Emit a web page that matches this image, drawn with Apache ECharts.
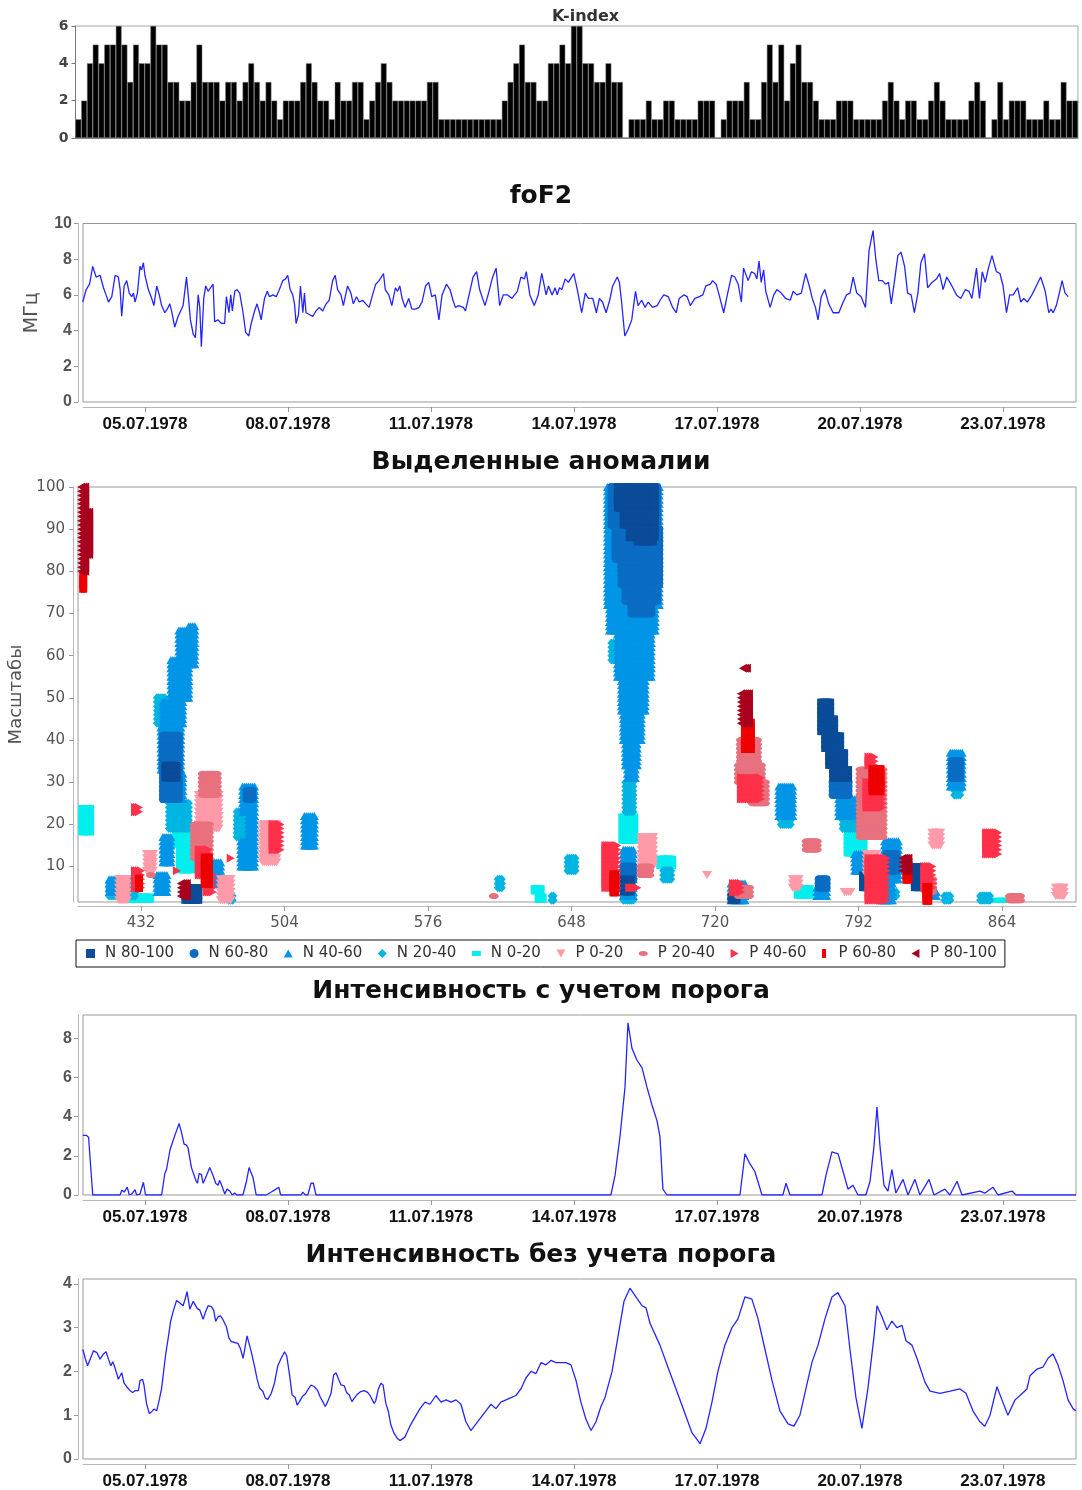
<!DOCTYPE html>
<html>
<head>
<meta charset="utf-8">
<script src="https://cdn.jsdelivr.net/npm/echarts@6/dist/echarts.min.js"></script>
<style>
html,body{margin:0;padding:0;background:#fff}
#chart{width:1082px;height:1490px}
</style>
</head>
<body>
<div id="chart"></div>
<script>
// ---------- time axis (hours from 17.06.1978 00:00) ----------
const dateTicks = [432, 504, 576, 648, 720, 792, 864];
const dateLabels = ['05.07.1978', '08.07.1978', '11.07.1978', '14.07.1978', '17.07.1978', '20.07.1978', '23.07.1978'];
const hourTicks = [432, 504, 576, 648, 720, 792, 864];

// ---------- K-index, 3-hour values ----------
const kIndex = [
  1,2,4,5,4,5,5,6,5,3,5,4,4,6,5,5,3,3,2,2,3,5,3,3,3,2,3,3,2,3,4,3,2,3,2,1,2,2,2,3,
  4,3,2,2,1,3,2,2,3,3,1,2,3,4,3,2,2,2,2,2,2,3,3,1,1,1,1,1,1,1,1,1,1,1,2,3,4,5,3,3,
  2,2,4,4,5,4,6,6,4,4,3,3,4,3,3,0,1,1,1,2,1,1,2,2,1,1,1,1,2,2,2,0,1,2,2,2,3,1,1,3,
  5,3,5,2,4,5,3,3,2,1,1,1,2,2,2,1,1,1,1,1,2,3,2,1,2,2,1,1,2,3,2,1,1,1,1,2,3,2,0,1,
  3,1,2,2,2,1,1,1,2,1,1,3,2,2
];

// ---------- foF2, MHz: [hour, value] ----------
const fof2 = [
  [400.7,5.6],[402.4,6.3],[404.1,6.6],[405.7,7.6],[407.4,7.0],[408.3,6.9],[409.4,7.1],[411.1,6.4],[412.4,6.0],[413.6,5.6],
  [414.4,5.5],[415.3,5.9],[417.0,7.1],[418.6,7.0],[419.5,6.3],[420.3,4.8],[421.5,6.5],[422.8,6.8],[424.1,6.1],[425.3,5.9],
  [426.2,6.1],[427.0,5.6],[428.2,6.1],[429.5,7.6],[430.3,7.4],[431.2,7.8],[432.0,7.1],[433.7,6.3],[435.4,5.8],[436.5,5.4],
  [437.9,6.5],[439.2,6.0],[440.4,5.4],[441.2,5.5],[442.0,5.0],[443.2,5.2],[444.5,5.5],[445.4,5.1],[447.0,4.2],[448.7,4.8],
  [450.4,5.2],[451.2,5.4],[452.9,7.0],[453.7,6.1],[454.9,4.6],[456.3,3.8],[457.4,3.6],[458.8,6.0],[459.6,5.3],[460.4,3.1],
  [461.6,5.8],[462.6,6.5],[463.8,6.2],[465.0,6.4],[466.3,6.6],[467.1,4.5],[468.8,4.6],[470.5,4.4],[472.1,4.4],[473.0,5.9],
  [474.3,5.0],[475.2,6.0],[476.0,5.1],[477.2,6.2],[478.3,6.3],[479.7,6.1],[481.4,5.0],[482.7,3.9],[484.3,3.7],[485.5,4.4],
  [487.2,5.1],[488.4,5.5],[489.7,5.0],[490.5,4.6],[492.2,5.8],[493.6,6.2],[494.7,5.9],[496.4,6.0],[498.1,5.9],[499.7,6.3],
  [501.4,6.8],[502.8,6.9],[503.9,7.1],[505.1,6.3],[506.4,6.0],[507.3,5.5],[508.1,4.4],[509.3,4.9],[510.3,6.5],[511.5,5.0],
  [512.3,6.1],[513.1,5.0],[514.8,4.9],[516.5,4.8],[518.1,5.1],[519.8,5.3],[521.5,5.1],[523.2,5.5],[524.8,5.7],[526.5,6.8],
  [527.8,7.1],[529.0,6.3],[530.7,6.0],[531.9,5.4],[534.0,6.5],[535.7,6.1],[536.9,5.5],[538.5,5.9],[539.9,5.6],[541.6,5.7],
  [543.2,5.5],[544.9,5.3],[546.6,6.0],[548.2,6.6],[549.9,6.8],[552.1,7.2],[553.0,6.3],[554.8,6.0],[556.3,5.4],[558.1,6.4],
  [559.2,6.2],[560.3,6.5],[561.5,5.8],[563.0,5.3],[564.8,5.8],[566.4,5.2],[568.2,5.2],[570.0,5.3],[571.5,5.6],[573.3,6.5],
  [574.9,6.7],[576.4,5.9],[578.2,6.0],[580.0,4.6],[581.6,6.0],[583.8,6.6],[585.6,6.3],[587.1,5.7],[588.3,5.3],[590.0,5.4],
  [592.3,5.3],[593.4,5.1],[595.0,5.9],[597.2,7.0],[599.0,7.3],[600.5,6.3],[603.2,5.4],[605.0,6.1],[606.8,6.9],[608.8,7.5],
  [610.6,5.4],[612.4,6.0],[614.6,6.0],[616.8,5.8],[619.5,6.2],[621.3,7.0],[623.1,6.9],[624.0,7.3],[625.8,6.0],[628.0,5.4],
  [630.0,6.0],[631.8,7.2],[634.0,6.0],[635.2,6.5],[637.0,6.0],[638.5,6.4],[639.6,6.0],[640.7,6.4],[641.9,6.3],[643.6,6.9],
  [645.2,6.7],[646.8,7.0],[647.9,7.2],[649.7,6.3],[651.9,5.0],[653.7,6.1],[655.3,5.8],[657.5,5.8],[659.3,5.0],[660.8,5.8],
  [662.4,5.6],[664.2,5.0],[666.0,5.7],[667.5,6.5],[669.8,7.0],[670.9,6.7],[672.0,5.6],[673.6,3.7],[675.4,4.1],[677.1,4.6],
  [679.0,6.2],[680.3,5.4],[682.1,5.7],[683.8,5.3],[685.4,5.6],[687.6,5.3],[689.9,5.4],[691.4,5.7],[693.2,6.0],[695.5,5.9],
  [697.7,5.3],[699.5,5.0],[701.0,5.8],[703.3,6.0],[705.0,5.9],[706.6,5.4],[708.9,5.8],[711.1,5.9],[712.9,6.0],[714.4,6.5],
  [716.7,6.6],[717.8,6.8],[719.6,6.6],[721.1,6.0],[723.4,5.0],[725.6,6.2],[727.4,7.1],[729.0,7.0],[730.7,6.6],[732.3,5.6],
  [733.4,7.5],[735.7,6.8],[737.4,7.3],[739.0,7.2],[740.1,6.9],[741.2,7.9],[742.3,6.7],[743.5,7.4],[744.6,6.2],[746.8,5.3],
  [748.6,6.0],[750.2,6.3],[752.4,6.1],[754.6,5.8],[756.9,5.7],[758.4,6.2],[760.2,6.0],[762.5,6.1],[764.7,7.2],[766.5,6.5],
  [768.0,5.8],[769.6,5.3],[770.9,4.6],[772.5,5.9],[774.3,6.3],[776.3,5.5],[778.5,5.0],[781.4,5.0],[783.2,5.5],[785.2,6.0],
  [787.0,6.1],[788.6,7.0],[790.4,6.1],[792.6,5.9],[794.8,5.3],[796.6,8.5],[798.6,9.6],[800.0,8.0],[801.5,6.8],[803.3,6.8],
  [804.9,6.6],[806.4,6.7],[807.8,5.5],[809.3,6.7],[811.1,8.2],[812.7,8.4],[814.5,7.6],[816.0,6.1],[817.8,6.0],[819.4,5.0],
  [821.2,6.1],[822.7,7.8],[824.5,8.3],[826.1,6.4],[828.3,6.7],[830.6,6.9],[832.1,7.2],[833.9,6.3],[835.7,7.0],[837.3,6.7],
  [838.8,6.4],[840.6,6.0],[842.8,5.8],[845.1,6.3],[846.9,6.2],[848.4,5.8],[850.7,7.5],[852.2,5.8],[853.6,7.3],[855.1,6.7],
  [856.7,7.5],[858.5,8.2],[860.7,7.3],[862.5,7.2],[864.1,6.5],[865.8,5.0],[867.4,6.0],[869.2,6.0],[871.4,6.4],[873.0,5.6],
  [874.5,5.8],[876.3,5.6],[878.6,6.0],[880.8,6.5],[883.0,7.0],[884.2,6.6],[885.3,6.2],[887.1,5.0],[888.2,5.2],[889.3,5.0],
  [890.9,5.4],[892.4,6.1],[893.8,6.8],[895.3,6.1],[896.9,5.9]
];

// ---------- intensity above threshold: [hour, value] ----------
const intensThr = [
  [400.7,3.05],[402.4,3.05],[403.6,2.95],[405.7,0],[419.5,0],[420.3,0.25],[421.5,0.15],[423.1,0.4],[424.1,0],[425.3,0.05],
  [427.0,0.27],[427.8,0],[429.5,0.05],[431.2,0.65],[432.3,0],[437.0,0],[437.5,0.1],[438.2,0],[440.4,0],[442.0,1.1],
  [442.9,1.33],[444.6,2.3],[446.2,2.8],[447.6,3.2],[449.2,3.65],[450.4,3.2],[451.7,2.6],[452.9,2.55],[453.7,2.4],[455.4,1.4],
  [456.3,1.3],[457.6,0.75],[458.4,0.6],[459.3,1.1],[460.4,1.05],[461.3,0.6],[463.0,1.0],[464.6,1.4],[465.5,1.45],[466.3,1.0],
  [467.6,0.6],[468.8,0.5],[469.6,0.75],[471.0,0.4],[472.2,0.05],[473.3,0.3],[474.7,0.2],[476.0,0],[477.2,0.1],[478.3,0],
  [481.3,0],[483.0,0.65],[484.4,1.4],[485.0,1.45],[486.4,0.9],[488.0,0],[493.1,0],[495.6,0.15],[497.2,0.25],[499.4,0.4],
  [500.3,0],[510.6,0],[511.5,0.15],[512.8,0],[514.0,0],[515.6,0.6],[516.8,0.6],[518.1,0],[607,0],[608,0.05],
  [609,0],[637,0],[638,0.05],[639,0],[647,0],[647.5,0.05],[648,0],[666.6,0],[668.7,1.0],[671.2,3.0],
  [673.7,5.5],[675.2,8.8],[677.2,7.5],[679.7,6.9],[682.3,6.5],[684.8,5.5],[687.3,4.6],[689.8,3.8],[691.3,3.0],[692.8,0.3],
  [694.8,0],[731.6,0],[734.1,2.1],[736.6,1.6],[739.1,1.2],[742.7,0],[753.2,0],[754.8,0.6],[756.8,0],[772.9,0],
  [774.9,1.0],[777.9,2.2],[781.0,2.1],[783.5,1.2],[786.0,0.3],[788.5,0.5],[791.0,0],[795.0,0],[797.1,0.7],[799.1,2.5],
  [800.6,4.5],[802.1,2.5],[804.1,0.5],[806.1,0.2],[808.1,1.3],[810.1,0.1],[813.7,0.8],[816.2,0],[819.7,0.8],[822.2,0],
  [826.8,0.8],[829.3,0],[834.8,0.3],[837.3,0],[840.9,0.7],[843.4,0],[852.4,0.2],[855.0,0.1],[859.0,0.4],[861.5,0],
  [868.6,0.2],[870.6,0],[900.8,0]
];

// ---------- intensity without threshold: [hour, value] ----------
const intensRaw = [
  [400.7,2.5],[401.9,2.3],[403.1,2.13],[404.4,2.28],[406.1,2.47],[407.8,2.43],[409.4,2.28],[411.1,2.4],[412.4,2.45],[413.6,2.28],
  [414.8,2.13],[415.8,2.22],[417.0,2.07],[418.6,1.82],[420.3,1.97],[421.5,1.73],[422.8,1.65],[424.5,1.56],[425.8,1.52],[427.0,1.56],
  [428.7,1.56],[429.5,1.79],[430.8,1.82],[431.5,1.69],[432.8,1.26],[434.2,1.04],[435.4,1.08],[436.5,1.14],[437.9,1.1],[439.2,1.35],
  [440.4,1.62],[441.2,1.92],[442.4,2.38],[443.7,2.76],[444.9,3.14],[446.2,3.37],[447.9,3.62],[449.6,3.56],[451.2,3.5],[452.1,3.63],
  [453.2,3.82],[454.6,3.42],[456.3,3.6],[457.1,3.62],[458.3,3.44],[459.6,3.4],[461.3,3.19],[462.6,3.37],[463.8,3.5],[465.5,3.48],
  [466.6,3.4],[467.6,3.14],[468.8,3.25],[470.0,3.27],[471.3,3.18],[473.0,3.02],[474.3,2.76],[475.5,2.68],[477.2,2.66],[478.8,2.64],
  [480.0,2.53],[481.4,2.3],[482.2,2.49],[483.4,2.81],[484.4,2.81],[485.5,2.45],[487.2,2.11],[488.4,1.84],[489.7,1.62],[491.4,1.54],
  [492.6,1.39],[493.9,1.36],[495.6,1.5],[497.2,1.73],[498.9,2.13],[500.6,2.3],[502.3,2.45],[503.4,2.35],[504.8,1.92],[506.1,1.46],
  [507.6,1.41],[508.6,1.23],[509.8,1.31],[511.5,1.44],[512.8,1.49],[514.0,1.58],[515.6,1.69],[517.3,1.65],[519.0,1.56],[520.2,1.42],
  [521.5,1.31],[522.8,1.2],[524.0,1.31],[525.7,1.5],[527.0,1.92],[528.2,1.97],[529.5,1.82],[530.7,1.69],[532.4,1.67],[533.5,1.52],
  [534.9,1.46],[536.2,1.31],[537.4,1.39],[539.0,1.48],[540.7,1.54],[542.4,1.56],[544.1,1.52],[545.2,1.46],[547.4,1.27],[548.2,1.33],
  [549.4,1.58],[550.8,1.73],[551.9,1.69],[553.3,1.27],[554.6,1.08],[555.8,0.78],[557.4,0.59],[559.1,0.47],[560.4,0.42],[562.9,0.5],
  [565.4,0.75],[567.9,0.95],[570.5,1.15],[573.0,1.3],[575.5,1.25],[578.5,1.45],[581.1,1.3],[583.6,1.35],[586.1,1.3],[588.6,1.35],
  [591.1,1.25],[593.6,0.85],[596.1,0.65],[598.7,0.8],[601.2,0.95],[603.7,1.1],[606.2,1.25],[608.7,1.15],[611.2,1.3],[613.8,1.35],
  [616.3,1.4],[618.8,1.45],[621.3,1.6],[623.8,1.85],[626.4,2.0],[628.9,1.95],[631.4,2.2],[633.9,2.15],[636.4,2.25],[639.0,2.2],
  [641.5,2.2],[644.0,2.2],[646.5,2.15],[649.0,1.8],[651.5,1.3],[654.1,0.9],[656.6,0.65],[659.1,0.85],[661.6,1.2],[663.6,1.4],
  [667.2,2.0],[670.2,2.8],[673.2,3.6],[676.2,3.9],[679.2,3.7],[682.3,3.5],[684.3,3.45],[686.3,3.1],[691.3,2.6],[695.3,2.1],
  [699.4,1.6],[703.4,1.1],[707.4,0.6],[711.5,0.35],[714.5,0.7],[717.5,1.3],[720.5,2.0],[724.0,2.6],[727.6,3.0],[730.6,3.2],
  [734.1,3.7],[737.6,3.65],[740.7,3.2],[744.2,2.5],[747.7,1.8],[751.7,1.1],[755.8,0.8],[758.8,0.75],[761.8,1.0],[764.8,1.6],
  [767.8,2.2],[770.9,2.6],[774.4,3.2],[777.9,3.7],[780.9,3.8],[784.5,3.5],[787.0,2.5],[790.0,1.4],[793.0,0.7],[796.0,1.6],
  [799.1,2.8],[800.6,3.5],[803.1,3.25],[805.6,2.95],[808.1,3.15],[810.6,3.0],[813.2,3.05],[815.2,2.7],[818.2,2.6],[820.7,2.3],
  [824.8,1.75],[827.3,1.55],[832.3,1.5],[837.4,1.55],[842.4,1.6],[845.4,1.5],[848.9,1.1],[852.4,0.85],[854.9,0.75],[857.5,1.0],
  [861.0,1.65],[863.5,1.35],[866.5,1.0],[870.1,1.35],[872.6,1.45],[876.1,1.6],[877.6,1.9],[881.1,2.05],[884.2,2.1],[886.7,2.3],
  [889.2,2.4],[891.7,2.15],[894.2,1.8],[896.8,1.35],[899.3,1.15],[900.8,1.1]
];

// ---------- detected anomalies: cell blocks [hourFrom, hourTo, scaleFrom, scaleTo] ----------
const blocksN80 = [
  [671,690,95,100],[674,690,91,94],[677,690,88,90],[681,689,87,87],
  [444,450,31,34],[454,461,2,5],[674,678,4,7],
  [773,778,46,49],[773,780,42,45],[775,783,38,41],[777,785,34,37],[779,787,31,33],
  [794,798,5,8],[820,823,5,10],[728,731,2,3]
];
const blocksN60 = [
  [668,691,91,100],[670,692,83,90],[673,692,77,82],[675,691,73,76],[678,688,70,72],
  [443,451,26,41],[485,488,26,28],[674,679,7,10],[779,787,27,30],[806,811,9,13],
  [839,843,31,35],[772,776,5,7]
];
const blocksN40 = [
  [666,692,72,100],[667,690,66,71],[671,688,55,65],[673,685,47,54],[674,683,40,46],[675,681,34,39],[676,680,31,33],[674,679,3,14],
  [451,455,60,66],[456,459,58,67],[447,456,50,59],[443,453,44,49],[442,452,33,43],[444,453,26,32],[443,447,11,17],
  [440,445,4,8],[468,472,6,11],[416,419,4,7],
  [483,489,23,29],[486,489,17,22],[482,489,10,16],[514,519,15,22],
  [752,759,22,29],[782,791,22,26],[790,796,9,13],[805,812,7,16],[803,809,2,8],
  [838,844,29,37],[828,831,3,4],[771,776,3,5],[728,735,2,6]
];
const blocksN20 = [
  [440,444,44,50],[446,456,19,25],[416,421,3,6],[425,429,3,7],[480,485,17,23],[476,478,2,3],
  [668,671,59,63],[675,679,23,30],[674,679,2,3],[694,698,7,9],[646,650,9,12],[638,639,2,3],[611,613,5,7],
  [753,758,20,21],[784,792,19,22],[840,843,27,28],[808,811,3,4],[835,838,2,3],[853,858,2,3]
];
const blocksN0 = [
  [403,406,18,24],[450,455,15,21],[452,457,9,14],[431,436,2,3],[426,429,2,3],
  [674,679,16,22],[693,698,10,12],[632,633,2,3],[630,632,4,5],[762,767,3,5],[787,794,13,19],[861,868,2,2]
];
const blocksP0 = [
  [461,471,19,27],[493,500,11,20],[435,438,9,13],[472,477,2,7],[421,425,2,7],
  [683,689,10,17],[716,716,8,8],[759,762,5,7],[785,788,4,4],[796,801,8,13],[829,833,15,18],[891,895,3,5]
];
const blocksP20 = [
  [463,470,27,32],[459,466,12,20],[437,437,8,8],[683,687,8,10],[666,669,8,12],
  [733,741,35,40],[732,743,30,34],[739,745,25,30],[766,771,14,16],[793,804,17,33],
  [826,829,4,7],[868,873,2,3],[609,609,3,3],[732,737,3,5]
];
const blocksP40 = [
  [461,466,8,14],[429,431,23,24],[498,502,14,20],[450,450,9,9],[477,477,12,12],[429,432,5,9],
  [665,671,5,15],[677,681,5,5],[733,743,26,31],[796,804,24,30],[797,806,2,12],[797,800,34,36],
  [856,862,13,18],[825,829,5,10],[729,733,4,6],[465,468,4,8]
];
const blocksP60 = [
  [402,404,76,79],[463,467,6,12],[668,671,4,8],[734,739,38,44],[798,804,28,33],[815,818,7,10],[825,828,2,5],[430,432,5,7]
];
const blocksP80 = [
  [402,404,80,100],[404,406,84,94],[734,736,57,57],[733,737,44,51],[452,455,3,6],[814,817,9,12]
];

// one marker per (hour, scale) cell of each block
function cells(blocks) {
  const pts = [];
  blocks.forEach(function (b) {
    for (let h = b[0]; h <= b[1]; h++) {
      for (let s = b[2]; s <= b[3]; s++) pts.push([h, s]);
    }
  });
  return pts;
}

const TRI_UP = 'path://M5,0L10,9L0,9Z';
const TRI_DOWN = 'path://M0,0L10,0L5,9Z';
const TRI_RIGHT = 'path://M0,0L9,5L0,10Z';
const TRI_LEFT = 'path://M9,0L9,10L0,5Z';
const ELLIPSE = 'path://M0,3A5,3 0 1 0 10,3A5,3 0 1 0 0,3Z';
const HRECT = 'path://M0,0L10,0L10,5L0,5Z';
const VRECT = 'path://M0,0L4,0L4,10L0,10Z';

const anomalyClasses = [
  // drawn in this order (lighter first)
  {name: 'N 0-20',   blocks: blocksN0,  color: '#00eeee', symbol: HRECT,    size: [10, 5]},
  {name: 'N 20-40',  blocks: blocksN20, color: '#00b5e2', symbol: 'diamond', size: [8, 9]},
  {name: 'N 40-60',  blocks: blocksN40, color: '#0095e6', symbol: TRI_UP,   size: [9, 8]},
  {name: 'N 60-80',  blocks: blocksN60, color: '#0b6cc3', symbol: 'circle', size: 8},
  {name: 'N 80-100', blocks: blocksN80, color: '#0a4c98', symbol: 'rect',   size: 7},
  {name: 'P 0-20',   blocks: blocksP0,  color: '#ff9aa9', symbol: TRI_DOWN, size: [10, 8]},
  {name: 'P 20-40',  blocks: blocksP20, color: '#e8717e', symbol: ELLIPSE,  size: [10, 6]},
  {name: 'P 40-60',  blocks: blocksP40, color: '#ff3049', symbol: TRI_RIGHT, size: [8, 9]},
  {name: 'P 60-80',  blocks: blocksP60, color: '#ee0000', symbol: VRECT,    size: [4, 9]},
  {name: 'P 80-100', blocks: blocksP80, color: '#a8001e', symbol: TRI_LEFT, size: [8, 9]}
];
const legendOrder = ['N 80-100', 'N 60-80', 'N 40-60', 'N 20-40', 'N 0-20', 'P 0-20', 'P 20-40', 'P 40-60', 'P 60-80', 'P 80-100'];
const legendIcons = {
  'N 80-100': 'path://M0,0L7,0L7,7L0,7Z',
  'N 60-80': 'circle',
  'N 40-60': 'path://M4.5,0L9,8L0,8Z',
  'N 20-40': 'diamond',
  'N 0-20': 'path://M0,0L9,0L9,5L0,5Z',
  'P 0-20': 'path://M0,0L9,0L4.5,8Z',
  'P 20-40': 'path://M0,2.5A4.5,2.5 0 1 0 9,2.5A4.5,2.5 0 1 0 0,2.5Z',
  'P 40-60': 'path://M0,0L8,4.5L0,9Z',
  'P 60-80': 'path://M0,0L4,0L4,9L0,9Z',
  'P 80-100': 'path://M8,0L8,9L0,4.5Z'
};

// ---------- layout helpers ----------
const BLUE = '#2424ff';
const boldNum = {fontFamily: 'Liberation Sans', fontWeight: 'bold', fontSize: 16, color: '#555'};
const dateLabelStyle = {fontFamily: 'Liberation Sans', fontWeight: 'bold', fontSize: 17, color: '#111'};

function dateXAxis(gridIndex) {
  return {
    type: 'value', gridIndex: gridIndex, min: 400.8, max: 900.8, offset: 5,
    axisLine: {show: true, onZero: false, lineStyle: {color: '#b8b8b8', width: 1}},
    axisTick: {show: true, customValues: dateTicks, length: 5, lineStyle: {color: '#999'}},
    axisLabel: Object.assign({customValues: dateTicks, margin: 9,
      formatter: function (v) { return dateLabels[dateTicks.indexOf(Math.round(v))]; }}, dateLabelStyle),
    splitLine: {show: false}
  };
}
function valueYAxis(gridIndex, max, ticks, extra) {
  return Object.assign({
    type: 'value', gridIndex: gridIndex, min: 0, max: max, offset: 5,
    axisLine: {show: true, lineStyle: {color: '#b8b8b8'}},
    axisTick: {show: true, customValues: ticks, length: 4, lineStyle: {color: '#999'}},
    axisLabel: Object.assign({customValues: ticks, margin: 6}, boldNum),
    splitLine: {show: false}
  }, extra || {});
}
function panel(left, top, width, height, border) {
  return {left: left, top: top, width: width, height: height, show: true,
    borderColor: border, borderWidth: 1, backgroundColor: '#fff',
    containLabel: false, outerBoundsMode: 'none'};
}

const titleStyle = {fontFamily: 'DejaVu Sans', fontWeight: 'bold', fontSize: 25, color: '#111'};

const option = {
  backgroundColor: '#fff',
  animation: false,
  title: [
    {text: 'K-index', left: 547, top: 4, textStyle: {fontFamily: 'DejaVu Sans', fontWeight: 'bold', fontSize: 16, color: '#333'}},
    {text: 'foF2', left: 'center', top: 179, textStyle: titleStyle},
    {text: 'Выделенные аномалии', left: 'center', top: 445, textStyle: titleStyle},
    {text: 'Интенсивность с учетом порога', left: 'center', top: 974, textStyle: titleStyle},
    {text: 'Интенсивность без учета порога', left: 'center', top: 1238, textStyle: titleStyle}
  ],
  legend: {
    data: legendOrder.map(function (n) { return {name: n, icon: legendIcons[n]}; }),
    left: 76, top: 940,
    itemWidth: 9, itemHeight: 9, itemGap: 15.5,
    padding: [6, 8, 6, 10],
    borderColor: '#111', borderWidth: 1,
    selectedMode: false,
    textStyle: {fontFamily: 'DejaVu Sans', fontSize: 15, color: '#333', padding: [0, 0, 0, 5]}
  },
  grid: [
    panel(75.5, 26, 1002.5, 112, '#aaa'),
    panel(83, 223.5, 993, 178.5, '#999'),
    panel(78, 487, 998, 415, '#999'),
    panel(83, 1015, 993, 180, '#999'),
    panel(83, 1279, 993, 180, '#999')
  ],
  xAxis: [
    {type: 'category', gridIndex: 0, data: kIndex.map(function (_, i) { return i; }),
      axisLine: {show: true, lineStyle: {color: '#888'}}, axisTick: {show: false}, axisLabel: {show: false}, splitLine: {show: false}},
    dateXAxis(1),
    {type: 'value', gridIndex: 2, min: 400.4, max: 901.1, offset: 4,
      axisLine: {show: true, onZero: false, lineStyle: {color: '#b8b8b8'}},
      axisTick: {show: true, customValues: hourTicks, length: 5, lineStyle: {color: '#999'}},
      axisLabel: {customValues: hourTicks, margin: 10, fontFamily: 'DejaVu Sans', fontSize: 15, color: '#555'},
      splitLine: {show: false}},
    dateXAxis(3),
    dateXAxis(4)
  ],
  yAxis: [
    {type: 'value', gridIndex: 0, min: 0, max: 6,
      axisLine: {show: true, lineStyle: {color: '#777'}},
      axisTick: {show: true, customValues: [0, 2, 4, 6], length: 4, lineStyle: {color: '#777'}},
      axisLabel: {customValues: [0, 2, 4, 6], margin: 7, fontFamily: 'DejaVu Sans', fontWeight: 'bold', fontSize: 14, color: '#444'},
      splitLine: {show: false}},
    valueYAxis(1, 10, [0, 2, 4, 6, 8, 10], {name: 'МГц', nameLocation: 'middle', nameGap: 36, nameRotate: 90,
      nameTextStyle: {fontFamily: 'DejaVu Sans', fontSize: 19, color: '#555'}}),
    {type: 'value', gridIndex: 2, min: 1.6, max: 100, offset: 5,
      axisLine: {show: true, lineStyle: {color: '#b8b8b8'}},
      axisTick: {show: true, customValues: [10, 20, 30, 40, 50, 60, 70, 80, 90, 100], length: 4, lineStyle: {color: '#999'}},
      axisLabel: {customValues: [10, 20, 30, 40, 50, 60, 70, 80, 90, 100], margin: 8, fontFamily: 'DejaVu Sans', fontSize: 15, color: '#555'},
      name: 'Масштабы', nameLocation: 'middle', nameGap: 47, nameRotate: 90,
      nameTextStyle: {fontFamily: 'DejaVu Sans', fontSize: 18, color: '#555'},
      splitLine: {show: false}},
    valueYAxis(3, 9.2, [0, 2, 4, 6, 8]),
    valueYAxis(4, 4.11, [0, 1, 2, 3, 4])
  ],
  series: [
    {type: 'bar', xAxisIndex: 0, yAxisIndex: 0, data: kIndex, barCategoryGap: '0%',
      itemStyle: {color: '#000', borderColor: '#777', borderWidth: 0.5}, silent: true},
    {type: 'line', xAxisIndex: 1, yAxisIndex: 1, data: fof2, showSymbol: false,
      lineStyle: {color: BLUE, width: 1.3}, silent: true},
    {type: 'line', xAxisIndex: 3, yAxisIndex: 3, data: intensThr, showSymbol: false,
      lineStyle: {color: BLUE, width: 1.3}, silent: true},
    {type: 'line', xAxisIndex: 4, yAxisIndex: 4, data: intensRaw, showSymbol: false,
      lineStyle: {color: BLUE, width: 1.3}, silent: true}
  ].concat(anomalyClasses.map(function (c) {
    return {
      name: c.name, type: 'scatter', xAxisIndex: 2, yAxisIndex: 2,
      data: cells(c.blocks), symbol: c.symbol, symbolSize: c.size,
      itemStyle: {color: c.color, opacity: 1}, silent: true, large: false
    };
  }))
};

const chart = echarts.init(document.getElementById('chart'), null, {renderer: 'canvas'});
chart.setOption(option);
</script>
</body>
</html>
